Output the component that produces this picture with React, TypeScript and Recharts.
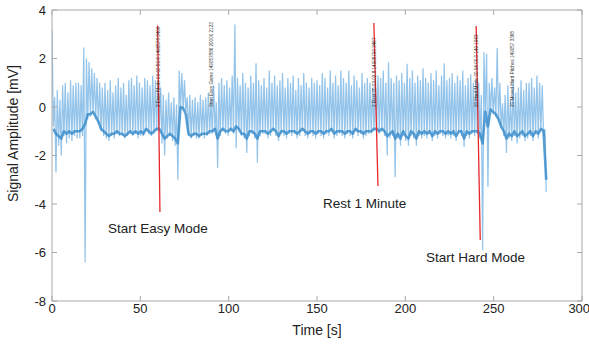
import React from 'react';
import { LineChart, Line, XAxis, YAxis, ReferenceLine, ReferenceDot } from 'recharts';

const beatStep = 1.5; // seconds between sampled beats

// Peak (upper) value of each beat [mV]
const peaks = [
  3.2, 0.4, 0.7, 0.3, 0.9, 1.0, 0.6, 1.1, 0.9, 1.0,
  1.0, 0.9, 2.45, 2.0, 1.85, 1.6, 1.4, 1.2, 1.0, 0.8,
  1.0, 0.7, 1.1, 0.6, 0.9, 1.2, 0.8, 1.0, 0.5, 1.1,
  1.2, 0.9, 1.3, 1.0, 0.8, 1.2, 1.1, 0.9, 1.3, 1.1,
  1.1, 0.8, 0.5, 0.3, 0.6, 0.2, 0.4, 0.1, 1.5, 1.4,
  1.1, 0.4, 0.5, 0.3, 0.4, 0.2, 0.5, 0.3, 0.4, 0.6,
  0.3, 0.9, 0.2, 1.0, 1.2, 0.9, 1.1, 0.8, 1.3, 3.4,
  1.2, 0.9, 1.4, 1.0, 0.8, 1.3, 1.0, 1.8, 1.1, 0.9,
  1.2, 0.8, 1.5, 1.0, 1.3, 0.9, 1.1, 1.4, 0.8, 1.2,
  1.0, 1.3, 0.7, 1.2, 0.9, 1.4, 1.0, 0.8, 1.2, 1.0,
  1.1, 0.9, 1.4, 1.2, 0.8, 1.5, 1.0, 1.3, 0.9, 1.5,
  1.2, 1.0, 1.5, 0.9, 1.3, 1.1, 0.8, 1.4, 1.0, 1.2,
  1.0, 0.8, 1.1, 1.3, 1.2, 1.5, 1.0, 1.85, 1.2, 1.0,
  1.3, 1.1, 1.4, 1.0, 1.78, 1.2, 1.5, 1.0, 1.3, 1.1,
  1.6, 1.2, 1.0, 1.4, 1.1, 1.5, 0.9, 1.3, 1.8, 1.1,
  1.2, 1.4, 1.0, 1.3, 1.1, 1.5, 0.9, 1.2, 1.35, 1.0,
  1.1, 1.0, 0.5, 2.27, 2.2, 1.0, 1.2, 0.8, 2.43, 1.0,
  0.15, 0.5, 0.9, 0.3, 1.0, 0.6, 0.8, 1.1, 0.7, 1.0,
  1.0, 1.2, 0.8, 1.3, 1.0, 0.9, -0.9,
];

// Lowest value following each beat [mV]
const troughs = [
  -0.8, -2.7, -1.6, -2.0, -1.2, -1.5, -1.3, -1.4, -1.2, -1.3,
  -1.3, -1.2, -6.4, -0.5, -0.4, -0.3, -0.5, -0.7, -1.0, -1.2,
  -1.3, -1.4, -1.2, -1.3, -1.1, -1.2, -1.2, -1.3, -1.2, -1.1,
  -1.2, -1.1, -1.3, -1.2, -1.2, -1.0, -1.1, -1.2, -1.1, -1.0,
  -1.0, -1.5, -2.0, -1.3, -1.2, -1.4, -1.6, -3.0, -0.1, -0.1,
  -0.2, -1.2, -1.3, -1.2, -1.3, -1.3, -1.2, -1.3, -1.2, -1.1,
  -1.1, -1.0, -2.5, -1.2, -1.0, -1.1, -1.2, -1.0, -1.1, -1.7,
  -1.0, -1.2, -1.3, -1.9, -1.2, -1.1, -1.3, -2.3, -1.2, -1.1,
  -1.1, -1.3, -1.2, -1.0, -1.2, -1.4, -1.1, -1.2, -1.3, -1.1,
  -1.2, -1.1, -1.3, -1.2, -1.0, -1.2, -1.3, -1.1, -1.2, -1.3,
  -1.1, -1.2, -1.3, -1.1, -1.2, -1.0, -1.3, -1.2, -1.1, -1.2,
  -1.3, -1.1, -1.2, -1.3, -1.0, -1.2, -1.1, -1.3, -1.2, -1.1,
  -1.1, -1.0, -1.0, -1.1, -1.0, -1.2, -2.0, -1.3, -1.2, -2.9,
  -1.3, -1.6, -1.2, -1.4, -1.6, -1.2, -1.3, -1.6, -1.2, -1.3,
  -1.2, -1.3, -1.1, -1.4, -1.2, -1.3, -1.1, -1.2, -1.3, -1.2,
  -1.3, -1.2, -1.4, -1.1, -1.2, -1.65, -1.2, -1.3, -1.1, -1.2,
  -1.1, -1.3, -5.9, -0.3, -3.3, -0.2, -0.3, -0.4, -0.6, -0.9,
  -1.2, -1.9, -1.3, -1.4, -1.2, -1.5, -1.3, -1.2, -1.4, -1.3,
  -1.2, -1.4, -1.1, -1.3, -1.0, -1.2, -3.5,
];

// Dense dark baseline trace [mV]
const baseline = [
  -0.9, -1.1, -1.2, -1.3, -1.0, -1.1, -1.0, -1.1, -1.0, -1.0,
  -1.0, -0.9, -0.7, -0.3, -0.3, -0.2, -0.4, -0.6, -0.9, -1.0,
  -1.1, -1.2, -1.1, -1.1, -1.0, -1.1, -1.1, -1.2, -1.1, -1.0,
  -1.1, -1.0, -1.1, -1.0, -1.1, -0.9, -1.0, -1.1, -1.0, -0.9,
  -0.9, -1.1, -1.3, -1.2, -1.1, -1.2, -1.3, -1.5, 0.0, -0.05,
  -0.3, -1.1, -1.2, -1.1, -1.1, -1.2, -1.1, -1.1, -1.1, -1.0,
  -1.0, -0.9, -1.3, -1.0, -0.9, -1.0, -1.0, -0.9, -1.0, -0.8,
  -0.9, -1.1, -1.1, -1.3, -1.0, -1.0, -1.1, -1.3, -1.0, -1.0,
  -1.0, -1.1, -1.0, -0.9, -1.0, -1.2, -1.0, -1.0, -1.1, -1.0,
  -1.0, -1.0, -1.1, -1.0, -0.9, -1.0, -1.1, -1.0, -1.0, -1.1,
  -1.0, -1.0, -1.1, -1.0, -1.0, -0.9, -1.1, -1.0, -1.0, -1.0,
  -1.1, -1.0, -1.0, -1.1, -0.9, -1.0, -1.0, -1.1, -1.0, -1.0,
  -1.0, -0.9, -0.9, -1.0, -0.9, -1.0, -1.2, -1.1, -1.0, -1.3,
  -1.1, -1.3, -1.0, -1.2, -1.3, -1.0, -1.1, -1.3, -1.0, -1.1,
  -1.0, -1.1, -1.0, -1.2, -1.0, -1.1, -1.0, -1.0, -1.1, -1.0,
  -1.1, -1.0, -1.2, -1.0, -1.0, -1.3, -1.0, -1.1, -1.0, -1.0,
  -1.0, -1.1, -1.5, -0.2, -0.8, -0.1, -0.2, -0.3, -0.5, -0.8,
  -1.0, -1.3, -1.1, -1.2, -1.0, -1.2, -1.1, -1.0, -1.2, -1.1,
  -1.0, -1.2, -1.0, -1.1, -0.9, -1.0, -3.0,
];

const xTicks = [0, 50, 100, 150, 200, 250, 300];
const yTicks = [-8, -6, -4, -2, 0, 2, 4];
const X_MAX = 300;
const Y_MAX = 4;

const markers = [
  { label: 'Start Easy Mode', x1: 59.8, y1: 3.36, x2: 61.1, y2: -4.33, tx: 31.7, ty: -5.0 },
  { label: 'Rest 1 Minute', x1: 182.2, y1: 3.46, x2: 184.5, y2: -3.26, tx: 153.4, ty: -3.96 },
  { label: 'Start Hard Mode', x1: 240.1, y1: 3.34, x2: 242.4, y2: -5.48, tx: 211.7, ty: -6.19 },
];

const stamps = [
  { x: 60.0, text: '2 Easy Mode 00:00:59.8 1490578 3406' },
  { x: 90.5, text: 'Start Easy Game 149057886 20000 2123' },
  { x: 182.8, text: '2 Rest 00:03:02.8 14905790 3467' },
  { x: 240.0, text: '20 Hard Mode 00:04:00.0 149 1963' },
  { x: 260.9, text: '20 Moved Hard Pitches 149057 3368' },
];

const rows: { t: number; v: number; b?: number }[] = [];
peaks.forEach((p, i) => {
  rows.push({ t: i * beatStep, v: p });
  rows.push({ t: i * beatStep + beatStep / 2, v: troughs[i], b: baseline[i] });
});

const FONT = '"Liberation Sans", Arial, Helvetica, sans-serif';
const AXIS = '#a8a8a8';
const TEXT = '#222';

export default function App() {
  return (
    <div style={{ position: 'absolute', left: 0, top: 0, fontFamily: FONT }}>
      <LineChart
        width={589}
        height={347}
        data={rows}
        margin={{ top: 10, right: 7, bottom: 0, left: 0 }}
      >
        <XAxis
          type="number"
          dataKey="t"
          domain={[0, X_MAX]}
          ticks={xTicks}
          allowDataOverflow
          height={46}
          stroke={AXIS}
          tickSize={-5}
          tickMargin={8}
          tick={{ fill: TEXT, fontSize: 13, fontFamily: FONT }}
          label={{
            content: (props: any) => {
              const vb = props.viewBox || {};
              return (
                <text
                  x={vb.x + vb.width / 2}
                  y={vb.y + 34}
                  textAnchor="middle"
                  fontSize={14}
                  fill={TEXT}
                  fontFamily={FONT}
                >
                  Time [s]
                </text>
              );
            },
          }}
        />
        <YAxis
          type="number"
          domain={[-8, Y_MAX]}
          ticks={yTicks}
          allowDataOverflow
          width={52}
          stroke={AXIS}
          tickSize={-5}
          tickMargin={11}
          tick={{ fill: TEXT, fontSize: 13, fontFamily: FONT }}
          label={{
            content: (props: any) => {
              const vb = props.viewBox || {};
              const cx = vb.x + 13;
              const cy = vb.y + vb.height / 2 - 22;
              return (
                <text
                  x={cx}
                  y={cy}
                  transform={`rotate(-90, ${cx}, ${cy})`}
                  textAnchor="middle"
                  dominantBaseline="central"
                  fontSize={14}
                  fill={TEXT}
                  fontFamily={FONT}
                >
                  Signal Amplitude [mV]
                </text>
              );
            },
          }}
        />
        {/* box: top and right borders with inward ticks */}
        <ReferenceLine y={Y_MAX} stroke={AXIS} strokeWidth={1} ifOverflow="visible" />
        <ReferenceLine x={X_MAX} stroke={AXIS} strokeWidth={1} ifOverflow="visible" />
        {xTicks.map((tk) => (
          <ReferenceLine
            key={'xt' + tk}
            segment={[
              { x: tk, y: Y_MAX },
              { x: tk, y: Y_MAX - 0.2 },
            ]}
            stroke={AXIS}
            ifOverflow="visible"
          />
        ))}
        {yTicks.map((tk) => (
          <ReferenceLine
            key={'yt' + tk}
            segment={[
              { x: X_MAX, y: tk },
              { x: X_MAX - 2.8, y: tk },
            ]}
            stroke={AXIS}
            ifOverflow="visible"
          />
        ))}
        <Line
          type="linear"
          dataKey="v"
          stroke="#94c4ea"
          strokeWidth={1.25}
          strokeLinejoin="bevel"
          dot={false}
          activeDot={false}
          isAnimationActive={false}
        />
        <Line
          type="linear"
          dataKey="b"
          stroke="#3589c9"
          strokeWidth={2.6}
          strokeOpacity={0.8}
          strokeLinejoin="round"
          connectNulls
          dot={false}
          activeDot={false}
          isAnimationActive={false}
        />
        {markers.map((m) => (
          <ReferenceLine
            key={m.label}
            segment={[
              { x: m.x1, y: m.y1 },
              { x: m.x2, y: m.y2 },
            ]}
            stroke="#e8272a"
            strokeWidth={1.3}
            ifOverflow="visible"
          />
        ))}
        {markers.map((m) => (
          <ReferenceDot
            key={'t' + m.label}
            x={m.tx}
            y={m.ty}
            r={0}
            fill="none"
            stroke="none"
            ifOverflow="visible"
            label={{
              content: (props: any) => {
                const vb = props.viewBox || {};
                return (
                  <text
                    x={vb.x}
                    y={vb.y}
                    textAnchor="start"
                    dominantBaseline="central"
                    fontSize={13.5}
                    fill={TEXT}
                    fontFamily={FONT}
                  >
                    {m.label}
                  </text>
                );
              },
            }}
          />
        ))}
        {stamps.map((s) => (
          <ReferenceDot
            key={s.text}
            x={s.x}
            y={0}
            r={0}
            fill="none"
            stroke="none"
            ifOverflow="visible"
            label={{
              content: (props: any) => {
                const vb = props.viewBox || {};
                return (
                  <text
                    x={vb.x}
                    y={vb.y}
                    transform={`rotate(-90, ${vb.x}, ${vb.y})`}
                    textAnchor="start"
                    dominantBaseline="central"
                    fontSize={4.6}
                    fill="#333"
                    fontFamily={FONT}
                  >
                    {s.text}
                  </text>
                );
              },
            }}
          />
        ))}
      </LineChart>
    </div>
  );
}
